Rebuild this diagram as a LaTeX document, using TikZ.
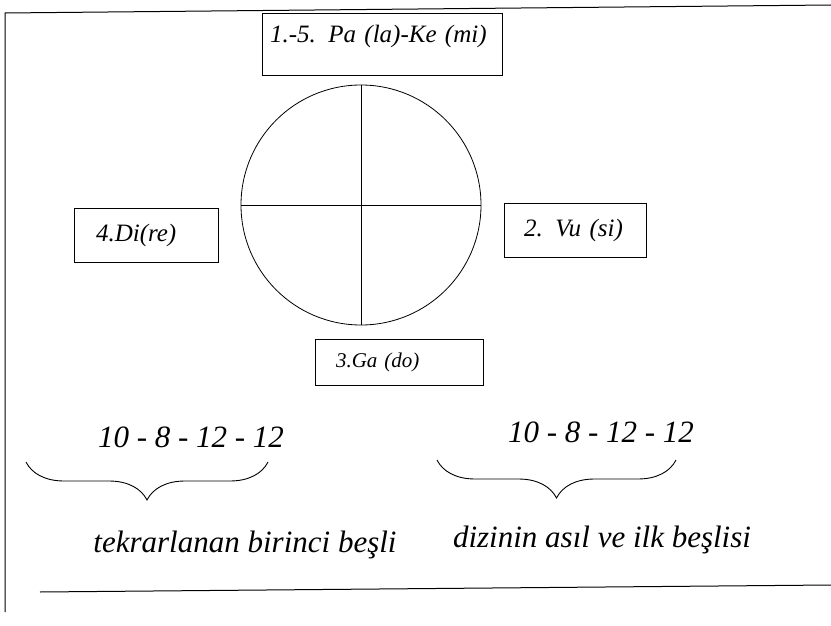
\documentclass[tikz,border=0pt]{standalone}
\usepackage{fontspec}
\setmainfont{Liberation Serif}[ItalicFont={Liberation Serif Italic}]
\usetikzlibrary{positioning, decorations.pathreplacing}

\begin{document}
\begin{tikzpicture}[x=1pt, y=-1pt,
  box/.style={draw, line width=0.9pt, align=left, inner ysep=0pt, font=\rmfamily\itshape\fontsize{25}{30}\selectfont},
  seq/.style={font=\rmfamily\itshape\fontsize{31}{36}\selectfont},
  caption/.style={font=\rmfamily\itshape\fontsize{31}{36}\selectfont},
  brace/.style={decorate, decoration={brace, mirror, amplitude=38pt}, line width=0.9pt}
]
\useasboundingbox (0,0) rectangle (831,626);

% page frame
\draw[line width=1pt] (5,612) -- (5,13) -- (831,5);
\draw[line width=1pt] (40,592) -- (831,585);

% wheel of the four tones
\node[draw, circle, minimum size=240pt, inner sep=0pt, line width=0.8pt] (wheel) at (361,205) {};
\draw[line width=0.8pt] (wheel.north) -- (wheel.south);
\draw[line width=0.8pt] (wheel.west) -- (wheel.east);

\node[box, text width=224pt, inner xsep=8pt, minimum height=62pt, text height=18pt, text depth=21pt] (pa) at (382,44) {1.-5. Pa (la)-Ke (mi)};
\node[box, text width=100pt, inner xsep=22pt, minimum height=54pt] (di) at (146,235) {4.Di(re)};
\node[box, text width=102pt, inner xsep=20pt, minimum height=54pt] (vu) at (575,230) {2. Vu (si)};
\node[box, text width=126pt, inner xsep=21pt, minimum height=46pt, font=\rmfamily\itshape\fontsize{21}{25}\selectfont] (ga) at (399,362) {3.Ga (do)};

% the two fives
\node[seq] (seqA) at (191,437) {10 - 8 - 12 - 12};
\node[seq] (seqB) at (601,432) {10 - 8 - 12 - 12};

\coordinate (braceA1) at (26,462);
\coordinate (braceA2) at (268,462);
\coordinate (braceB1) at (437,460);
\coordinate (braceB2) at (676,460);
\draw[brace] (braceA1) -- (braceA2);
\draw[brace] (braceB1) -- (braceB2);

\node[caption] (capA) at (245,545) {tekrarlanan birinci beşli};
\node[caption] (capB) at (602,540) {dizinin asıl ve ilk beşlisi};
\end{tikzpicture}
\end{document}
